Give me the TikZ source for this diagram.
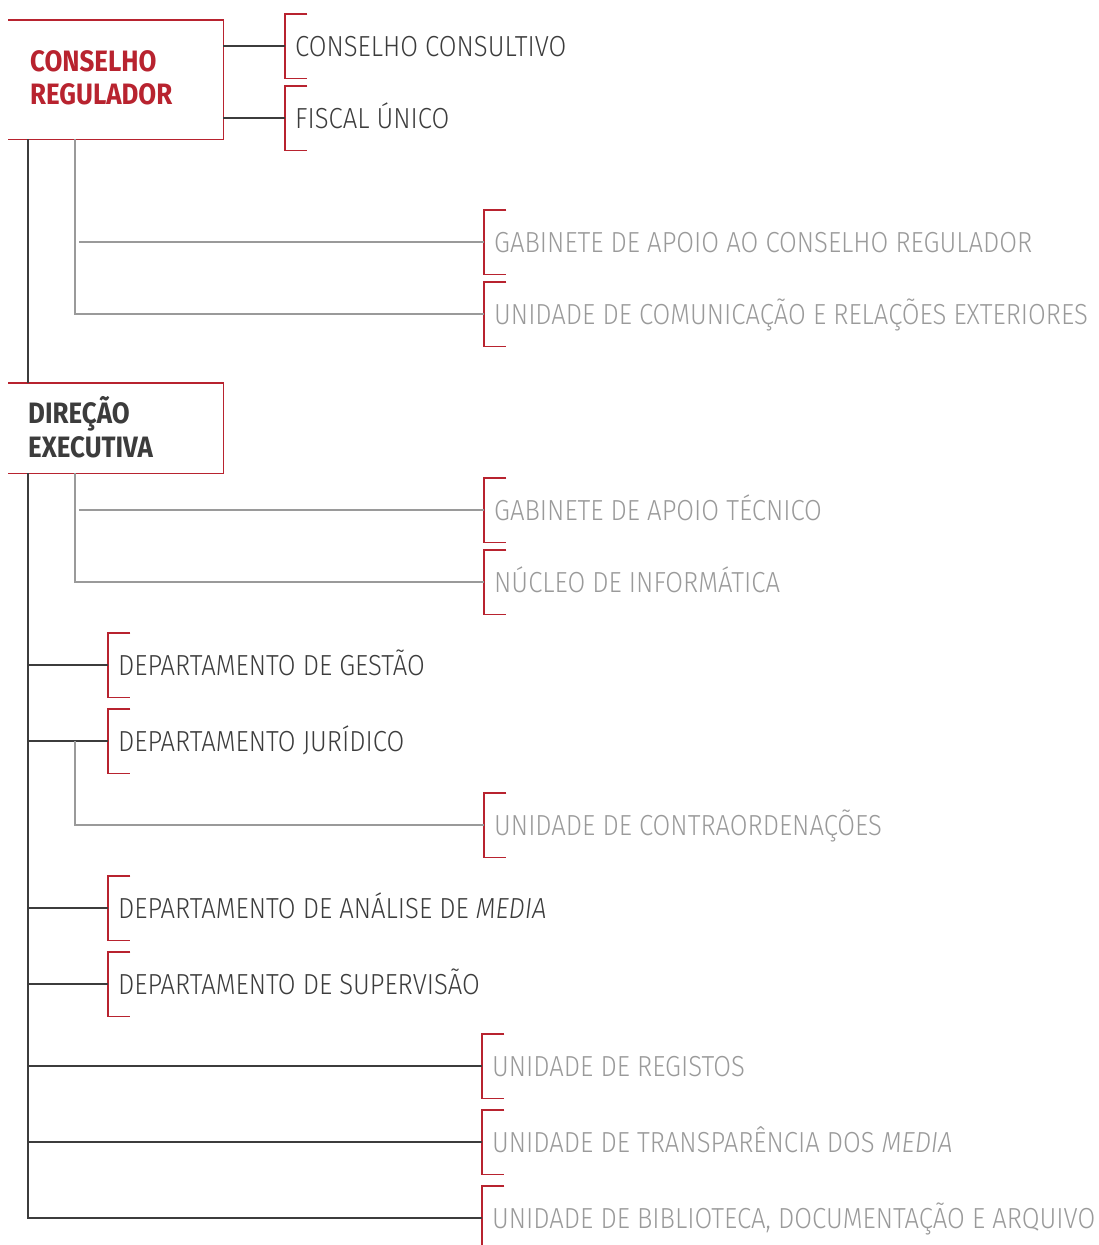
\documentclass[tikz,border=0pt]{standalone}
\usepackage{fontspec}
\setmainfont{Fira Sans}[UprightFont={* Light}, ItalicFont={* Light Italic}, BoldFont={* SemiBold}, FakeStretch=0.886]
\newfontfamily\headf{Fira Sans}[UprightFont={* Bold}, FakeStretch=0.878]
\definecolor{cred}{HTML}{B8232F}
\definecolor{cdark}{HTML}{3C3C3C}
\definecolor{cgray}{HTML}{9A9A9A}
\newcommand\brak[1]{\draw[redline] (#1.north east) -- (#1.north west) -- (#1.south west) -- (#1.south east);}
\begin{document}
\begin{tikzpicture}[x=1pt,y=-1pt,
  brk/.style={draw=none, minimum width=22pt, minimum height=64pt, inner sep=0pt, anchor=west},
  redline/.style={draw=cred, line width=1.4pt},
  dline/.style={draw=cdark, line width=1.3pt},
  gline/.style={draw=cgray, line width=1.3pt},
  dtxt/.style={text=cdark, font=\fontsize{29}{34}\selectfont, anchor=base west, inner sep=0pt},
  gtxt/.style={dtxt, text=cgray},
  boxn/.style={anchor=north west, minimum width=215pt, inner sep=0pt, fill=white},
  htxt/.style={anchor=base west, inner sep=0pt, font=\headf\fontsize{29.5}{34}\selectfont}
]
\useasboundingbox (0,0) rectangle (1098,1245);

% boxes
\node[boxn, minimum height=119pt] (cr) at (8,20) {};
\node[boxn, minimum height=90pt] (de) at (8,383) {};
\draw[redline] (cr.north west) -- (cr.north east) -- (cr.south east) -- (cr.south west);
\draw[redline] (de.north west) -- (de.north east) -- (de.south east) -- (de.south west);
\node[htxt, text=cred] (tCR1) at (30,71) {CONSELHO};
\node[htxt, text=cred] (tCR2) at (30,104) {REGULADOR};
\node[htxt, text=cdark] (tDE1) at (28,423) {DIREÇÃO};
\node[htxt, text=cdark] (tDE2) at (28,457) {EXECUTIVA};

% bracket anchors
\node[brk] (bCC) at (285,46) {};
\node[brk] (bFU) at (285,118) {};
\node[brk] (bGACR) at (484,242) {};
\node[brk] (bUCRE) at (484,314) {};
\node[brk] (bGAT) at (484,510) {};
\node[brk] (bNI) at (484,582) {};
\node[brk] (bDG) at (108,665) {};
\node[brk] (bDJ) at (108,741) {};
\node[brk] (bUC) at (484,825) {};
\node[brk] (bDAM) at (108,908) {};
\node[brk] (bDS) at (108,984) {};
\node[brk] (bUR) at (482,1066) {};
\node[brk] (bUT) at (482,1142) {};
\node[brk] (bUB) at (482,1218) {};

\foreach \b in {bCC,bFU,bGACR,bUCRE,bGAT,bNI,bDG,bDJ,bUC,bDAM,bDS,bUR,bUT,bUB}{\brak{\b}}

% texts
\node[dtxt] (tCC) at ([xshift=10pt,yshift=-10pt]bCC.west) {CONSELHO CONSULTIVO};
\node[dtxt] (tFU) at ([xshift=10pt,yshift=-10pt]bFU.west) {FISCAL ÚNICO};
\node[gtxt] (tGACR) at ([xshift=10pt,yshift=-10pt]bGACR.west) {GABINETE DE APOIO AO CONSELHO REGULADOR};
\node[gtxt] (tUCRE) at ([xshift=10pt,yshift=-10pt]bUCRE.west) {UNIDADE DE COMUNICAÇÃO E RELAÇÕES EXTERIORES};
\node[gtxt] (tGAT) at ([xshift=10pt,yshift=-10pt]bGAT.west) {GABINETE DE APOIO TÉCNICO};
\node[gtxt] (tNI) at ([xshift=10pt,yshift=-10pt]bNI.west) {NÚCLEO DE INFORMÁTICA};
\node[dtxt] (tDG) at ([xshift=10pt,yshift=-10pt]bDG.west) {DEPARTAMENTO DE GESTÃO};
\node[dtxt] (tDJ) at ([xshift=10pt,yshift=-10pt]bDJ.west) {DEPARTAMENTO JURÍDICO};
\node[gtxt] (tUC) at ([xshift=10pt,yshift=-10pt]bUC.west) {UNIDADE DE CONTRAORDENAÇÕES};
\node[dtxt] (tDAM) at ([xshift=10pt,yshift=-10pt]bDAM.west) {DEPARTAMENTO DE ANÁLISE DE \textit{MEDIA}};
\node[dtxt] (tDS) at ([xshift=10pt,yshift=-10pt]bDS.west) {DEPARTAMENTO DE SUPERVISÃO};
\node[gtxt] (tUR) at ([xshift=10pt,yshift=-10pt]bUR.west) {UNIDADE DE REGISTOS};
\node[gtxt] (tUT) at ([xshift=10pt,yshift=-10pt]bUT.west) {UNIDADE DE TRANSPARÊNCIA DOS \textit{MEDIA}};
\node[gtxt] (tUB) at ([xshift=10pt,yshift=-10pt]bUB.west) {UNIDADE DE BIBLIOTECA, DOCUMENTAÇÃO E ARQUIVO};

% connectors
\coordinate (trunk) at ([xshift=20pt]cr.south west);
\coordinate (g1) at ([xshift=67pt]cr.south west);
\coordinate (g1s) at ([xshift=71pt]cr.south west);
\coordinate (g2) at ([xshift=67pt]de.south west);
\coordinate (g2s) at ([xshift=71pt]de.south west);

\draw[dline] (bCC.west -| cr.east) -- (bCC.west);
\draw[dline] (bFU.west -| cr.east) -- (bFU.west);

\draw[dline] (trunk) -- (trunk |- de.north);
\draw[dline] (trunk |- de.south) -- (trunk |- bUB.west) -- (bUB.west);
\draw[dline] (trunk |- bDG.west) -- (bDG.west);
\draw[dline] (trunk |- bDJ.west) -- (bDJ.west);
\draw[dline] (trunk |- bDAM.west) -- (bDAM.west);
\draw[dline] (trunk |- bDS.west) -- (bDS.west);
\draw[dline] (trunk |- bUR.west) -- (bUR.west);
\draw[dline] (trunk |- bUT.west) -- (bUT.west);

\draw[gline] (g1) -- (g1 |- bUCRE.west) -- (bUCRE.west);
\draw[gline] (g1s |- bGACR.west) -- (bGACR.west);
\draw[gline] (g2) -- (g2 |- bNI.west) -- (bNI.west);
\draw[gline] (g2s |- bGAT.west) -- (bGAT.west);
\draw[gline] (g1 |- bDJ.west) -- (g1 |- bUC.west) -- (bUC.west);
\end{tikzpicture}
\end{document}
